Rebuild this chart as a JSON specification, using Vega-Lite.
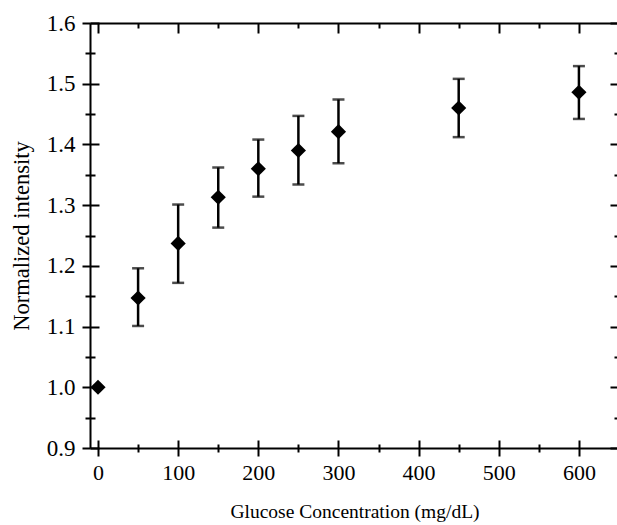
{
  "$schema": "https://vega.github.io/schema/vega-lite/v6.json",
  "autosize": {"type": "none"},
  "padding": {"left": 90, "top": 23, "right": 0, "bottom": 77},
  "width": 529,
  "height": 425,
  "background": "white",
  "config": {
    "view": {"stroke": null},
    "axis": {
      "grid": false,
      "domainColor": "black",
      "domainWidth": 2,
      "tickColor": "black",
      "tickWidth": 2,
      "labelFont": "Liberation Serif",
      "titleFont": "Liberation Serif",
      "labelColor": "black",
      "titleColor": "black",
      "titleFontWeight": "normal"
    }
  },
  "data": {
    "values": [
      {"x": 0, "y": 1.0, "lo": 1.0, "hi": 1.0},
      {"x": 50, "y": 1.147, "lo": 1.101, "hi": 1.196},
      {"x": 100, "y": 1.237, "lo": 1.172, "hi": 1.301},
      {"x": 150, "y": 1.313, "lo": 1.263, "hi": 1.362},
      {"x": 200, "y": 1.360, "lo": 1.314, "hi": 1.408},
      {"x": 250, "y": 1.390, "lo": 1.334, "hi": 1.447},
      {"x": 300, "y": 1.421, "lo": 1.369, "hi": 1.474},
      {"x": 450, "y": 1.460, "lo": 1.412, "hi": 1.508},
      {"x": 600, "y": 1.486, "lo": 1.442, "hi": 1.529}
    ]
  },
  "resolve": {"axis": {"x": "independent", "y": "independent"}},
  "layer": [
    {
      "transform": [{"filter": "datum.hi > datum.lo"}],
      "mark": {"type": "rule", "color": "black", "strokeWidth": 2.5},
      "encoding": {
        "x": {
          "field": "x", "type": "quantitative",
          "scale": {"domain": [-10, 650], "nice": false, "zero": false},
          "axis": {
            "orient": "bottom",
            "values": [0, 100, 200, 300, 400, 500, 600],
            "tickSize": 8,
            "labelPadding": 6,
            "labelFontSize": 22,
            "title": "Glucose Concentration (mg/dL)",
            "titleFontSize": 19.5,
            "titlePadding": 19
          }
        },
        "y": {
          "field": "lo", "type": "quantitative",
          "scale": {"domain": [0.9, 1.6], "nice": false, "zero": false},
          "axis": {
            "orient": "left",
            "values": [0.9, 1.0, 1.1, 1.2, 1.3, 1.4, 1.5, 1.6],
            "format": ".1f",
            "tickSize": 8,
            "labelPadding": 7,
            "labelFontSize": 23,
            "title": "Normalized intensity",
            "titleFontSize": 22.5,
            "titlePadding": 13
          }
        },
        "y2": {"field": "hi"}
      }
    },
    {
      "transform": [{"filter": "datum.hi > datum.lo"}],
      "mark": {"type": "tick", "orient": "horizontal", "color": "black", "size": 12, "thickness": 2.5},
      "encoding": {
        "x": {
          "field": "x", "type": "quantitative",
          "axis": {
            "orient": "bottom",
            "values": [0, 50, 100, 150, 200, 250, 300, 350, 400, 450, 500, 550, 600, 650],
            "tickSize": {"condition": {"test": "datum.value % 100 === 0", "value": -8}, "value": -4},
            "labels": false,
            "domain": false,
            "title": null
          }
        },
        "y": {
          "field": "hi", "type": "quantitative",
          "axis": {
            "orient": "left",
            "values": [0.9, 0.95, 1.0, 1.05, 1.1, 1.15, 1.2, 1.25, 1.3, 1.35, 1.4, 1.45, 1.5, 1.55, 1.6],
            "tickSize": {"condition": {"test": "abs(datum.value * 10 - round(datum.value * 10)) < 0.01", "value": -9}, "value": -5},
            "labels": false,
            "domain": false,
            "title": null
          }
        }
      }
    },
    {
      "transform": [{"filter": "datum.hi > datum.lo"}],
      "mark": {"type": "tick", "orient": "horizontal", "color": "black", "size": 12, "thickness": 2.5},
      "encoding": {
        "x": {
          "field": "x", "type": "quantitative",
          "axis": {
            "orient": "bottom",
            "values": [50, 150, 250, 350, 450, 550, 650],
            "tickSize": 4,
            "labels": false,
            "domain": false,
            "title": null
          }
        },
        "y": {
          "field": "lo", "type": "quantitative",
          "axis": {
            "orient": "left",
            "values": [0.95, 1.05, 1.15, 1.25, 1.35, 1.45, 1.55],
            "tickSize": 5,
            "labels": false,
            "domain": false,
            "title": null
          }
        }
      }
    },
    {
      "mark": {"type": "point", "shape": "diamond", "filled": true, "color": "black", "opacity": 1, "size": 230},
      "encoding": {
        "x": {
          "field": "x", "type": "quantitative",
          "axis": {
            "orient": "top",
            "values": [0, 50, 100, 150, 200, 250, 300, 350, 400, 450, 500, 550, 600, 650],
            "tickSize": {"condition": {"test": "datum.value % 100 === 0", "value": -10}, "value": -5},
            "labels": false,
            "title": null
          }
        },
        "y": {
          "field": "y", "type": "quantitative",
          "axis": {
            "orient": "right",
            "values": [0.9, 0.95, 1.0, 1.05, 1.1, 1.15, 1.2, 1.25, 1.3, 1.35, 1.4, 1.45, 1.5, 1.55, 1.6],
            "tickSize": {"condition": {"test": "abs(datum.value * 10 - round(datum.value * 10)) < 0.01", "value": -9}, "value": -5},
            "labels": false,
            "title": null
          }
        }
      }
    }
  ]
}
